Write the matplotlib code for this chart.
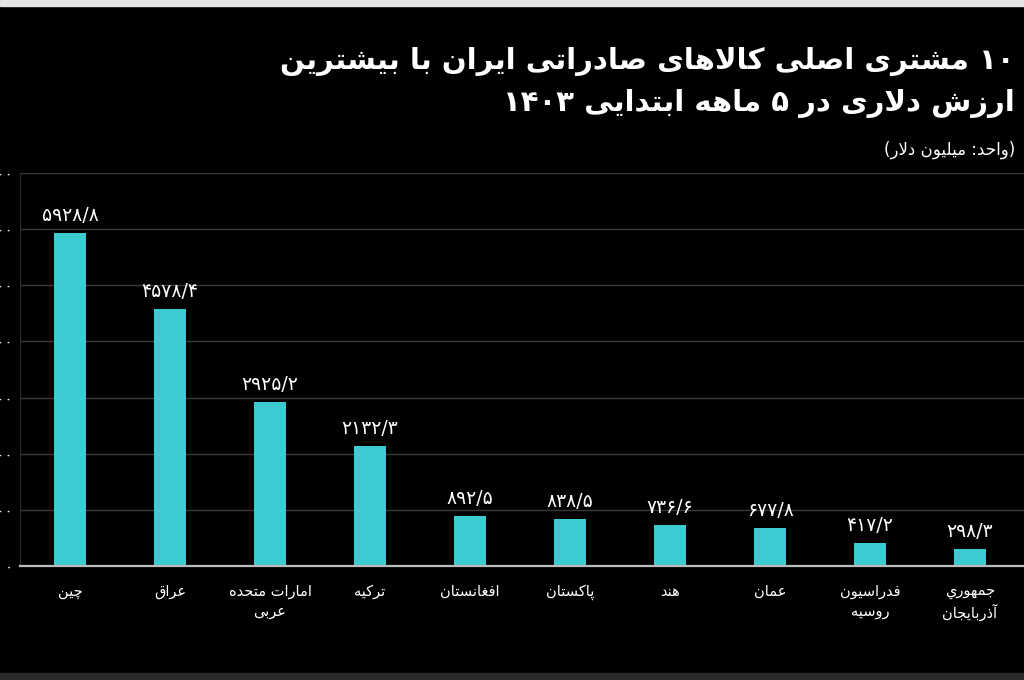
import matplotlib
matplotlib.use('Agg')
import matplotlib.pyplot as plt
from matplotlib.patches import Rectangle
from matplotlib.ticker import FuncFormatter

countries = ['چین', 'عراق', 'امارات متحده\nعربی', 'ترکیه', 'افغانستان', 'پاکستان',
             'هند', 'عمان', 'فدراسیون\nروسیه', 'جمهوري\nآذربایجان']
exports = [5928.8, 4578.4, 2925.2, 2132.3, 892.5, 838.5, 736.6, 677.8, 417.2, 298.3]
y_ticks = [0, 1000, 2000, 3000, 4000, 5000, 6000, 7000]
title_lines = ['۱۰ مشتری اصلی کالاهای صادراتی ایران با بیشترین',
               'ارزش دلاری در ۵ ماهه ابتدایی ۱۴۰۳']
unit_label = '(واحد: میلیون دلار)'

BAR_COLOR = '#3ccbd0'
DIGITS = '۰۱۲۳۴۵۶۷۸۹0123456789'

# presentation forms: (isolated, final, initial, medial); initial/medial None for right-joining
_dual = {'ب': 0xFE8F, 'ت': 0xFE95, 'ث': 0xFE99, 'ج': 0xFE9D, 'ح': 0xFEA1, 'خ': 0xFEA5,
         'س': 0xFEB1, 'ش': 0xFEB5, 'ص': 0xFEB9, 'ض': 0xFEBD, 'ط': 0xFEC1, 'ظ': 0xFEC5,
         'ع': 0xFEC9, 'غ': 0xFECD, 'ف': 0xFED1, 'ق': 0xFED5, 'ل': 0xFEDD, 'م': 0xFEE1,
         'ن': 0xFEE5, 'ه': 0xFEE9, 'ي': 0xFEF1, 'پ': 0xFB56, 'چ': 0xFB7A, 'ک': 0xFB8E,
         'گ': 0xFB92, 'ی': 0xFBFC}
_right = {'ا': 0xFE8D, 'آ': 0xFE81, 'د': 0xFEA9, 'ذ': 0xFEAB, 'ر': 0xFEAD, 'ز': 0xFEAF,
          'و': 0xFEED, 'ژ': 0xFB8A}
FORMS = {}
for c, b in _dual.items():
    FORMS[c] = (b, b + 1, b + 2, b + 3)
for c, b in _right.items():
    FORMS[c] = (b, b + 1, None, None)


def joins_forward(c):
    return c is not None and len(c) == 1 and FORMS[c][2] is not None


def shape_run(word):
    # logical order in, logical order out (presentation forms)
    chars = []
    i = 0
    while i < len(word):
        if word[i] == 'ل' and i + 1 < len(word) and word[i + 1] in ('ا', 'آ'):
            chars.append(word[i:i + 2])
            i += 2
        else:
            chars.append(word[i])
            i += 1
    out = []
    for k, c in enumerate(chars):
        prev = chars[k - 1] if k > 0 else None
        nxt = chars[k + 1] if k + 1 < len(chars) else None
        jp = joins_forward(prev)
        if len(c) == 2:
            lig = (0xFEFB, 0xFEFC) if c[1] == 'ا' else (0xFEF5, 0xFEF6)
            out.append(chr(lig[1] if jp else lig[0]))
            continue
        f = FORMS[c]
        jn = f[2] is not None and nxt is not None
        if jp and jn:
            out.append(chr(f[3]))
        elif jp:
            out.append(chr(f[1]))
        elif jn:
            out.append(chr(f[2]))
        else:
            out.append(chr(f[0]))
    return ''.join(out)


def fa_line(line):
    # shape letter runs
    shaped, cur = '', ''
    for ch in line:
        if ch in FORMS:
            cur += ch
        else:
            shaped += shape_run(cur) + ch
            cur = ''
    shaped += shape_run(cur)
    # split into number runs (left-to-right) and the rest, then lay out right-to-left
    units = []
    i = 0
    while i < len(shaped):
        ch = shaped[i]
        if ch in DIGITS:
            j = i
            while j < len(shaped) and (shaped[j] in DIGITS or
                                        (shaped[j] in '/.' and j + 1 < len(shaped)
                                         and shaped[j + 1] in DIGITS)):
                j += 1
            units.append(shaped[i:j])
            i = j
        else:
            units.append({'(': ')', ')': '('}.get(ch, ch))
            i += 1
    return ''.join(reversed(units))


def fa(text):
    return '\n'.join(fa_line(l) for l in text.split('\n'))


def fa_num(s):
    return s.translate(str.maketrans('0123456789.', '۰۱۲۳۴۵۶۷۸۹/'))


plt.rcParams['font.family'] = ['DejaVu Sans']

fig = plt.figure(figsize=(10.24, 6.8), dpi=100, facecolor='black')
ax = fig.add_axes([20 / 1024, 114 / 680, 1004 / 1024, 393 / 680], facecolor='black')

x = list(range(len(countries)))
ax.bar(x, exports, width=0.32, color=BAR_COLOR, zorder=3)
for xi, v in zip(x, exports):
    ax.text(xi, v + 140, fa_num(f'{v:.1f}'), ha='center', va='bottom',
            fontsize=13.5, color='white', zorder=4)

ax.set_xlim(-0.5, 9.54)
ax.set_ylim(0, 7000)
ax.set_yticks(y_ticks)
ax.yaxis.set_major_formatter(FuncFormatter(lambda v, p: fa_num(str(int(v)))))
ax.set_xticks(x)
ax.set_xticklabels([fa(c) for c in countries], fontsize=10.5, color='white',
                   linespacing=1.35)
ax.tick_params(axis='x', length=0, pad=13)
ax.tick_params(axis='y', length=0, pad=5, labelsize=11, labelcolor='white')
ax.yaxis.grid(True, color='#3a3a3a', lw=1, zorder=0)

for s in ['top', 'right']:
    ax.spines[s].set_visible(False)
ax.spines['left'].set_color('#2e2e2e')
ax.spines['bottom'].set_color('#bdbdbd')
ax.spines['bottom'].set_linewidth(1.6)
ax.spines['bottom'].set_zorder(5)

fig.text(1015 / 1024, 1 - 61 / 680, fa(title_lines[0]), ha='right', va='center',
         fontsize=21, fontweight='bold', color='white')
fig.text(1015 / 1024, 1 - 103 / 680, fa(title_lines[1]), ha='right', va='center',
         fontsize=21, fontweight='bold', color='white')
fig.text(1015 / 1024, 1 - 150 / 680, fa(unit_label), ha='right', va='center',
         fontsize=12, color='white')

# frame strips at the top and bottom edges of the screenshot
fig.patches.append(Rectangle((0, 1 - 6 / 680), 1, 6 / 680, transform=fig.transFigure,
                             color='#e6e6e6', zorder=0))
fig.patches.append(Rectangle((0, 0), 1, 7 / 680, transform=fig.transFigure,
                             color='#2b2b2b', zorder=0))

fig.savefig('out.png', dpi=100, facecolor='black')
